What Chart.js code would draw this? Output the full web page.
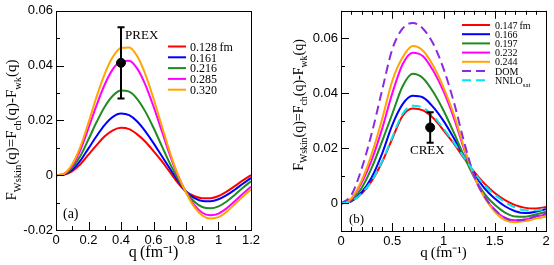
<!DOCTYPE html>
<html>
<head>
<meta charset="utf-8">
<script src="https://cdn.jsdelivr.net/npm/chart.js@4.4.1/dist/chart.umd.min.js"></script>
<style>
  body { margin: 0; background: #fff; }
  canvas { position: absolute; top: 0; }
  #chartA { left: 0; }
  #chartB { left: 277px; }
</style>
</head>
<body>
<canvas id="chartA" width="277" height="265"></canvas>
<canvas id="chartB" width="277" height="265"></canvas>
<script>
// ---- panel (a) ----
const leftQ = [0, 0.05, 0.1, 0.15, 0.2, 0.25, 0.3, 0.35, 0.4, 0.45, 0.5, 0.55, 0.6, 0.65, 0.7, 0.75, 0.8, 0.85, 0.9, 0.95, 1.0, 1.05, 1.1, 1.15, 1.2];
const left128 = [0, 0.0002, 0.0015, 0.004, 0.0075, 0.011, 0.0142, 0.0164, 0.0173, 0.0168, 0.0149, 0.0122, 0.0088, 0.0052, 0.0012, -0.0028, -0.006, -0.0076, -0.0084, -0.0084, -0.0076, -0.006, -0.004, -0.0019, 0];
const left161 = [0, 0.0003, 0.002, 0.0053, 0.0098, 0.0143, 0.0184, 0.0213, 0.0225, 0.0219, 0.0196, 0.016, 0.0117, 0.0071, 0.0025, -0.002, -0.0059, -0.0083, -0.0094, -0.0095, -0.0088, -0.0073, -0.0053, -0.0031, -0.001];
const left216 = [0, 0.0004, 0.0027, 0.007, 0.0131, 0.0194, 0.025, 0.029, 0.0309, 0.0305, 0.0278, 0.0232, 0.0173, 0.0108, 0.0044, -0.0013, -0.006, -0.0096, -0.0116, -0.0121, -0.0114, -0.0096, -0.0072, -0.0046, -0.0022];
const left285 = [0, 0.0005, 0.0035, 0.0092, 0.0172, 0.0256, 0.0331, 0.0387, 0.0416, 0.0418, 0.0389, 0.033, 0.0251, 0.0163, 0.0075, -0.0002, -0.0062, -0.0108, -0.0137, -0.0146, -0.014, -0.0121, -0.0095, -0.0068, -0.0042];
const left320 = [0, 0.0006, 0.004, 0.0103, 0.0192, 0.0287, 0.037, 0.0432, 0.0464, 0.0466, 0.0434, 0.0368, 0.028, 0.0182, 0.0085, 0.0002, -0.0063, -0.0115, -0.0147, -0.0158, -0.0153, -0.0133, -0.0106, -0.0078, -0.0052];
const leftLabels = ['0.128\u2009fm', '0.161', '0.216', '0.285', '0.320'];
const prexQ = [0.4], prexVal = [0.041], prexErr = [0.013];

// ---- panel (b) ----
const rightQ = [0, 0.1, 0.2, 0.3, 0.4, 0.5, 0.6, 0.7, 0.8, 0.9, 1.0, 1.1, 1.2, 1.3, 1.4, 1.5, 1.6, 1.7, 1.8, 1.9, 2.0];
const r147 = [0, 0.0008, 0.0035, 0.0082, 0.015, 0.0235, 0.0318, 0.0345, 0.0338, 0.031, 0.0266, 0.0218, 0.0165, 0.0115, 0.0072, 0.0038, 0.0012, -0.0006, -0.0016, -0.0018, -0.0013];
const r166 = [0, 0.0009, 0.004, 0.0095, 0.018, 0.0285, 0.036, 0.0391, 0.0385, 0.035, 0.03, 0.0238, 0.0172, 0.0108, 0.0055, 0.0018, -0.001, -0.0028, -0.0035, -0.003, -0.0021];
const r197 = [0, 0.0011, 0.0055, 0.013, 0.0225, 0.0325, 0.0425, 0.0471, 0.0455, 0.0405, 0.0338, 0.0258, 0.0172, 0.0094, 0.0035, -0.0005, -0.0033, -0.0047, -0.0048, -0.004, -0.003];
const r232 = [0, 0.0016, 0.0074, 0.0158, 0.027, 0.04, 0.0505, 0.0548, 0.0535, 0.0482, 0.0408, 0.0312, 0.0198, 0.0096, 0.0024, -0.0024, -0.0052, -0.0061, -0.0058, -0.0048, -0.004];
const r244 = [0, 0.0018, 0.0082, 0.018, 0.0305, 0.0445, 0.053, 0.0572, 0.0555, 0.05, 0.0422, 0.0325, 0.0205, 0.0098, 0.0022, -0.003, -0.006, -0.0068, -0.0064, -0.0055, -0.0048];
const rDOM = [0, 0.003, 0.0125, 0.0255, 0.041, 0.056, 0.0635, 0.0656, 0.0635, 0.058, 0.049, 0.037, 0.0225, 0.01, 0.0025, -0.0022, -0.0052, -0.0062, -0.0058, -0.0046, -0.0035];
const rNNLO = [0, 0.0008, 0.0036, 0.0083, 0.0152, 0.024, 0.0325, 0.0355, 0.0348, 0.0318, 0.0272, 0.0222, 0.0168, 0.0113, 0.0066, 0.0032, 0.0005, -0.0015, -0.0025, -0.0025, -0.002];
const rightLabels = ['0.147\u2009fm', '0.166', '0.197', '0.232', '0.244', 'DOM', 'NNLO_{sat}'];
const crexQ = [0.87], crexVal = [0.0276], crexErr = [0.0055];

const SERIF = '"Liberation Serif", "Times New Roman", serif';
const SANS = '"Liberation Sans", Arial, sans-serif';

// text with _{...} subscripts
function parseRich(s) {
    return s.split(/_\{([^}]*)\}/).map((t, i) => ({ t, sub: i % 2 === 1 })).filter(p => p.t);
}
function richWidth(ctx, parts, size) {
    let w = 0;
    parts.forEach(p => {
        ctx.font = (p.sub ? size * 0.7 : size) + 'px ' + SERIF;
        w += ctx.measureText(p.t).width;
    });
    return w;
}
function drawRich(ctx, parts, x, y, size) {
    parts.forEach(p => {
        ctx.font = (p.sub ? size * 0.7 : size) + 'px ' + SERIF;
        ctx.fillText(p.t, x, p.sub ? y + size * 0.3 : y);
        x += ctx.measureText(p.t).width;
    });
}

function series(qs, vals) {
    return qs.map((q, i) => ({ x: q, y: vals[i] }));
}

const decor = {
    id: 'decor',
    afterDatasetsDraw(chart) {
        const ctx = chart.ctx, xs = chart.scales.x, ys = chart.scales.y;
        ctx.save();
        chart.data.datasets.forEach(ds => {
            if (!ds.err) return;
            ds.data.forEach((p, i) => {
                const x = xs.getPixelForValue(p.x);
                const y1 = ys.getPixelForValue(p.y + ds.err[i]);
                const y2 = ys.getPixelForValue(p.y - ds.err[i]);
                ctx.strokeStyle = '#000';
                ctx.lineWidth = 2;
                ctx.beginPath();
                ctx.moveTo(x, y1); ctx.lineTo(x, y2);
                ctx.moveTo(x - 3.5, y1); ctx.lineTo(x + 3.5, y1);
                ctx.moveTo(x - 3.5, y2); ctx.lineTo(x + 3.5, y2);
                ctx.stroke();
            });
        });
        ctx.restore();
    },
    afterDraw(chart, args, o) {
        const ctx = chart.ctx, a = chart.chartArea, xs = chart.scales.x, ys = chart.scales.y;
        ctx.save();
        // frame
        ctx.strokeStyle = '#000';
        ctx.lineWidth = 1;
        ctx.strokeRect(Math.round(a.left) + 0.5, Math.round(a.top) + 0.5, Math.round(a.right - a.left), Math.round(a.bottom - a.top));
        // inward ticks
        ctx.beginPath();
        xs.ticks.forEach(t => {
            const x = Math.round(xs.getPixelForValue(t.value)) + 0.5;
            const len = t.label ? 8 : 4;
            ctx.moveTo(x, a.bottom); ctx.lineTo(x, a.bottom - len);
            if (o.topTicks) { ctx.moveTo(x, a.top); ctx.lineTo(x, a.top + len); }
        });
        ys.ticks.forEach(t => {
            const y = Math.round(ys.getPixelForValue(t.value)) + 0.5;
            const len = t.label ? 8 : 4;
            ctx.moveTo(a.left, y); ctx.lineTo(a.left + len, y);
        });
        ctx.stroke();
        // legend
        const lg = o.legend;
        ctx.fillStyle = '#000';
        ctx.textBaseline = 'alphabetic';
        let row = 0;
        chart.data.datasets.forEach(ds => {
            if (ds.err) return;
            const y = lg.y0 + row * lg.dy;
            ctx.strokeStyle = ds.borderColor;
            ctx.lineWidth = 2;
            ctx.setLineDash(ds.borderDash || []);
            ctx.beginPath();
            ctx.moveTo(lg.x0, y); ctx.lineTo(lg.x1, y);
            ctx.stroke();
            ctx.setLineDash([]);
            drawRich(ctx, parseRich(ds.label), lg.tx, y + lg.size * 0.35, lg.size);
            row++;
        });
        // notes in data units
        o.notes.forEach(n => {
            drawRich(ctx, parseRich(n.text), xs.getPixelForValue(n.x), ys.getPixelForValue(n.y) + n.size * 0.35, n.size);
        });
        // rotated y title
        const yt = o.ytitle;
        const parts = parseRich(yt.text);
        const w = richWidth(ctx, parts, yt.size);
        ctx.translate(yt.x, yt.y);
        ctx.rotate(-Math.PI / 2);
        drawRich(ctx, parts, -w / 2, 0, yt.size);
        ctx.restore();
    }
};

function makeChart(id, cfg) {
    const colors = ['#ff0000', '#0000ff', '#1e8c1e', '#ff00ff', '#ffa500', '#8a2be2', '#00e5ee'];
    const datasets = cfg.curves.map((vals, i) => ({
        label: cfg.labels[i],
        data: series(cfg.q, vals),
        borderColor: colors[i],
        borderWidth: 2,
        borderDash: cfg.dashed.includes(i) ? [9, 5] : undefined,
        pointRadius: 0,
        cubicInterpolationMode: 'monotone',
        order: 20 - i
    }));
    datasets.push({
        data: series(cfg.ptQ, cfg.ptVal),
        err: cfg.ptErr,
        showLine: false,
        pointRadius: 4.5,
        pointBackgroundColor: '#000',
        pointBorderColor: '#000',
        order: 0
    });
    return new Chart(document.getElementById(id), {
        type: 'line',
        data: { datasets },
        plugins: [decor],
        options: {
            responsive: false,
            animation: false,
            layout: { padding: cfg.padding },
            plugins: {
                legend: { display: false },
                tooltip: { enabled: false },
                decor: cfg.decor
            },
            scales: {
                x: {
                    type: 'linear',
                    min: cfg.xMin, max: cfg.xMax,
                    grid: { display: false, drawTicks: false },
                    border: { display: false },
                    afterFit: s => { s.height = cfg.xH; },
                    title: {
                        display: true,
                        text: 'q\u2009(fm\u207B\u00B9)',
                        color: '#000',
                        font: { family: SERIF, size: cfg.xTitleSize },
                        padding: { top: 0, bottom: 3 }
                    },
                    ticks: {
                        stepSize: cfg.xStep,
                        autoSkip: false,
                        maxRotation: 0,
                        padding: 3,
                        color: '#000',
                        font: { family: SANS, size: 13 },
                        callback: v => {
                            const k = Math.round(v / cfg.xStep);
                            return k % cfg.xMajorEvery === 0 ? String(Math.round(v * 100) / 100) : '';
                        }
                    }
                },
                y: {
                    min: cfg.yMin, max: cfg.yMax,
                    grid: { display: false, drawTicks: false },
                    border: { display: false },
                    afterFit: s => { s.width = cfg.yW; },
                    ticks: {
                        stepSize: 0.01,
                        autoSkip: false,
                        padding: 3,
                        color: '#000',
                        font: { family: SANS, size: 13 },
                        callback: v => {
                            const k = Math.round(v * 100);
                            if (k % 2 !== 0) return '';
                            return k === 0 ? '0' : (k / 100).toFixed(2);
                        }
                    }
                }
            }
        }
    });
}

makeChart('chartA', {
    q: leftQ,
    curves: [left128, left161, left216, left285, left320],
    labels: leftLabels,
    dashed: [],
    ptQ: prexQ, ptVal: prexVal, ptErr: prexErr,
    padding: { top: 8, right: 26, left: 0, bottom: 0 },
    xMin: 0, xMax: 1.2, xStep: 0.1, xMajorEvery: 2, xH: 35, yW: 56, xTitleSize: 16,
    yMin: -0.02, yMax: 0.06,
    decor: {
        topTicks: false,
        legend: { x0: 168, x1: 186, tx: 190, y0: 46.5, dy: 10.8, size: 12 },
        notes: [
            { text: 'PREX', x: 0.425, y: 0.0512, size: 13 },
            { text: '(a)', x: 0.043, y: -0.0139, size: 14 }
        ],
        ytitle: { text: 'F_{Wskin}(q)=F_{ch}(q)-F_{wk}(q)', x: 16, y: 130, size: 15 }
    }
});

makeChart('chartB', {
    q: rightQ,
    curves: [r147, r166, r197, r232, r244, rDOM, rNNLO],
    labels: rightLabels,
    dashed: [5, 6],
    ptQ: crexQ, ptVal: crexVal, ptErr: crexErr,
    padding: { top: 7, right: 8, left: 0, bottom: 0 },
    xMin: 0, xMax: 2, xStep: 0.1, xMajorEvery: 5, xH: 34, yW: 64, xTitleSize: 15,
    yMin: -0.01, yMax: 0.07,
    decor: {
        topTicks: true,
        legend: { x0: 185, x1: 213, tx: 218, y0: 25, dy: 9.2, size: 10 },
        notes: [
            { text: 'CREX', x: 0.673, y: 0.0196, size: 13 },
            { text: '(b)', x: 0.078, y: -0.0054, size: 13 }
        ],
        ytitle: { text: 'F_{Wskin}(q)=F_{ch}(q)-F_{wk}(q)', x: 26, y: 105, size: 14 }
    }
});
</script>
</body>
</html>
